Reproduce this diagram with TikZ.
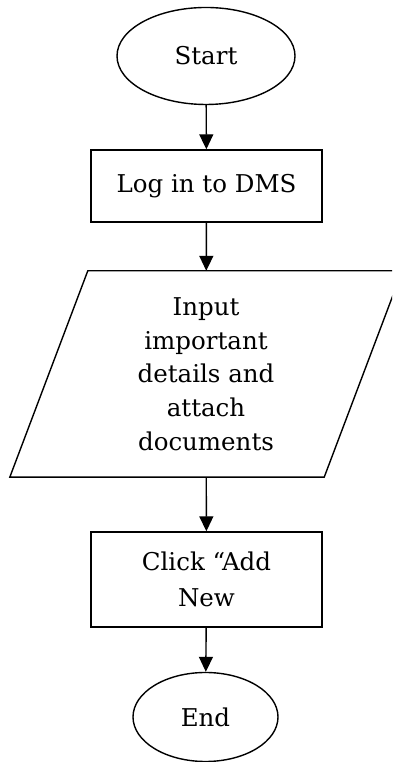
\documentclass[tikz,border=0pt]{standalone}
\usepackage{fontspec}
\setmainfont{DejaVu Serif}
\usetikzlibrary{arrows.meta,shapes.geometric}

\tikzset{
  flow/.style={line width=1.4pt},
  arrowline/.style={flow, -{Triangle[length=15pt,width=14pt]}},
  terminal/.style={ellipse, draw, flow, inner sep=0pt, font=\fontsize{24.5}{34}\selectfont},
  process/.style={rectangle, draw, flow, minimum width=231pt, align=center,
    font=\fontsize{24.5}{36}\selectfont},
  iobox/.style={rectangle, draw=none, minimum width=314pt, minimum height=206pt,
    align=center, font=\fontsize{24.5}{33.75}\selectfont},
}

\begin{document}
\begin{tikzpicture}[x=1pt,y=1pt]
  \useasboundingbox (0,0) rectangle (392,762);
  \clip (0,0) rectangle (392,762);

  % terminals and steps, top to bottom
  \node[terminal, minimum width=178pt, minimum height=97pt] (start) at (206,706) {Start};
  \node[process, minimum height=72pt] (login) at (206.5,576) {Log in to DMS};
  \node[iobox] (input) at (206,388) {Input\\important\\details and\\attach\\documents};
  \node[process, minimum height=95pt] (click) at (206.5,182.5) {Click “Add\\New};
  \node[terminal, minimum width=145pt, minimum height=89pt] (end) at (205.5,45) {End};

  % the slanted input/output box around the text node
  \draw[flow] ([xshift=39pt]input.north west) -- ([xshift=39pt]input.north east)
    -- ([xshift=-39pt]input.south east) -- ([xshift=-39pt]input.south west) -- cycle;

  % connectors
  \draw[arrowline] (start) -- (login);
  \draw[arrowline] (login) -- (input);
  \draw[arrowline] (input) -- (click);
  \draw[arrowline] (click) -- (end);
\end{tikzpicture}
\end{document}
